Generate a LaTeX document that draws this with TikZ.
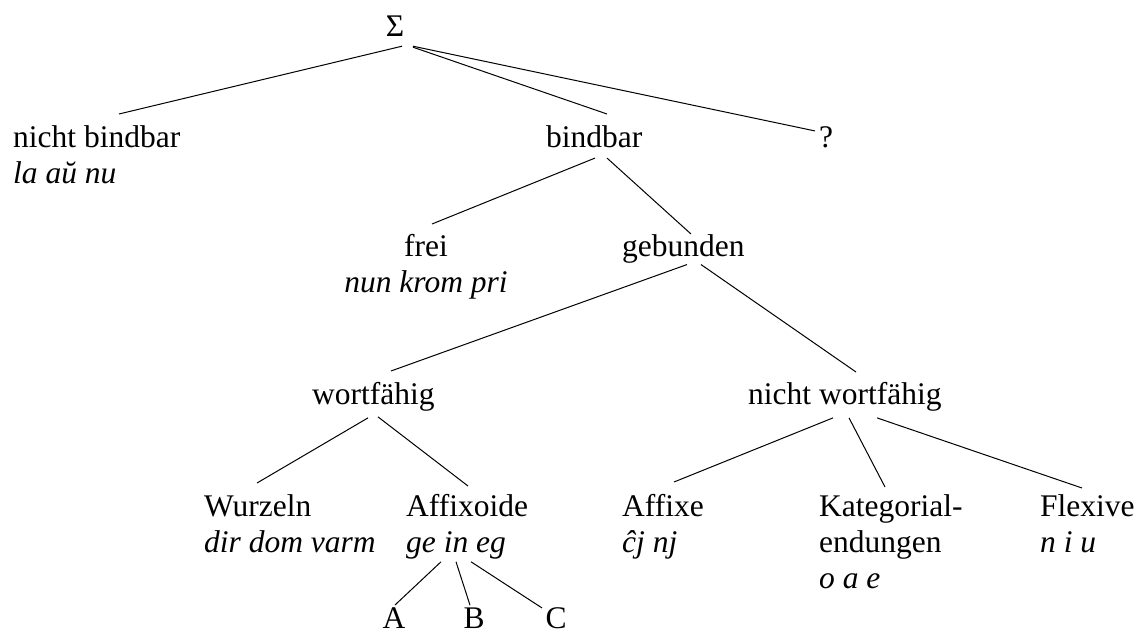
\documentclass[tikz,border=0pt]{standalone}
\usepackage{fontspec}
\setmainfont{Liberation Serif}

\tikzstyle{term} = [inner sep=0pt, align=left, anchor=north west]
\tikzstyle{branch} = [line width=1pt]

\begin{document}
\begin{tikzpicture}[x=1pt, y=-1pt, font=\fontsize{31.5}{36}\selectfont]
	\useasboundingbox (0,0) rectangle (1137,634);

	\node (sigma) [term, anchor=base] at (395,37) {Σ};
	\node (nb) [term] at (13,125.5) {nicht bindbar\\\textit{la aŭ nu}};
	\node (bb) [term] at (546,125.5) {bindbar};
	\node (q) [term, anchor=base west] at (819,147) {?};
	\node (frei) [term, align=center, anchor=north] at (426,234.5) {frei\\\textit{nun krom pri}};
	\node (geb) [term] at (622,234.5) {gebunden};
	\node (wf) [term] at (312,382.5) {wortfähig};
	\node (nwf) [term] at (748,382.5) {nicht wortfähig};
	\node (wz) [term] at (204,494.5) {Wurzeln\\\textit{dir dom varm}};
	\node (afx) [term] at (406,494.5) {Affixoide\\\textit{ge in eg}};
	\node (a) [term, anchor=base] at (394,628) {A};
	\node (b) [term, anchor=base] at (474,628) {B};
	\node (c) [term, anchor=base] at (556,628) {C};
	\node (aff) [term] at (622,494.5) {Affixe\\\textit{ĉj nj}};
	\node (kat) [term] at (819,494.5) {Kategorial-\\endungen\\\textit{o a e}};
	\node (flex) [term] at (1040,494.5) {Flexive\\\textit{n i u}};

	\draw [branch] ([xshift=7pt,yshift=-9pt]sigma.south) -- ([xshift=106pt,yshift=11.5pt]nb.north west);
	\draw [branch] ([xshift=18pt,yshift=-10pt]sigma.south) -- ([xshift=61pt,yshift=11.5pt]bb.north west);
	\draw [branch] ([xshift=18pt,yshift=-9pt]sigma.south) -- ([xshift=-4pt,yshift=-5pt]q.north west);
	\draw [branch] ([xshift=49pt,yshift=-10pt]bb.south west) -- ([xshift=6pt,yshift=10.5pt]frei.north);
	\draw [branch] ([xshift=61pt,yshift=-10pt]bb.south west) -- ([xshift=69pt,yshift=0.5pt]geb.north west);
	\draw [branch] ([xshift=65pt,yshift=-1pt]geb.south west) -- ([xshift=79pt,yshift=11.5pt]wf.north west);
	\draw [branch] ([xshift=79pt,yshift=-1pt]geb.south west) -- ([xshift=108pt,yshift=10.5pt]nwf.north west);
	\draw [branch] ([xshift=56pt,yshift=-6pt]wf.south west) -- ([xshift=53pt,yshift=11.5pt]wz.north west);
	\draw [branch] ([xshift=66pt,yshift=-5pt]wf.south west) -- ([xshift=62pt,yshift=8.5pt]afx.north west);
	\draw [branch] ([xshift=35pt,yshift=-2pt]afx.south west) -- ([xshift=1pt,yshift=2pt]a.north);
	\draw [branch] ([xshift=50pt,yshift=-2pt]afx.south west) -- ([xshift=-4pt,yshift=2pt]b.north);
	\draw [branch] ([xshift=65pt,yshift=-2pt]afx.south west) -- ([xshift=-14pt,yshift=-1pt]c.north);
	\draw [branch] ([xshift=85pt,yshift=-6pt]nwf.south west) -- ([xshift=52pt,yshift=12.5pt]aff.north west);
	\draw [branch] ([xshift=101pt,yshift=-6pt]nwf.south west) -- ([xshift=66pt,yshift=7.5pt]kat.north west);
	\draw [branch] ([xshift=129pt,yshift=-6pt]nwf.south west) -- ([xshift=42pt,yshift=6.5pt]flex.north west);
\end{tikzpicture}
\end{document}
